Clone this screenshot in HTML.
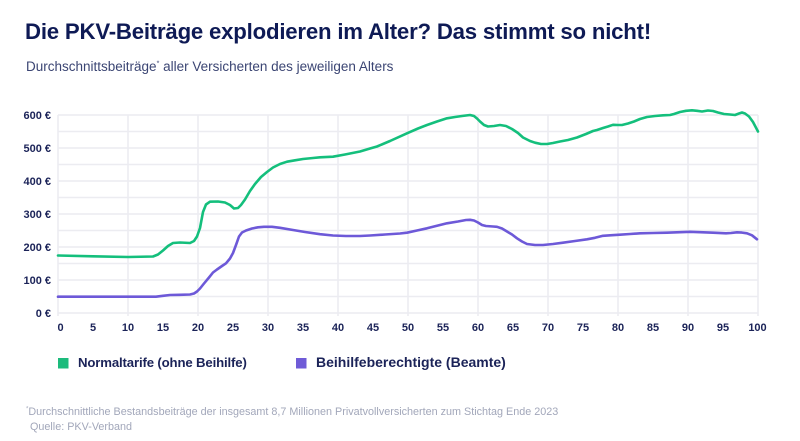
<!DOCTYPE html>
<html><head><meta charset="utf-8">
<style>
html,body{margin:0;padding:0;background:#fff;}
body{width:800px;height:441px;overflow:hidden;position:relative;font-family:"Liberation Sans","DejaVu Sans",sans-serif;}
.t{position:absolute;white-space:nowrap;}
</style></head><body>
<div class="t" style="left:25px;top:19px;font-size:22.2px;font-weight:bold;color:#0e1a55;letter-spacing:-0.2px;">Die PKV-Beiträge explodieren im Alter? Das stimmt so nicht!</div>
<div class="t" style="left:26px;top:59px;font-size:13.5px;color:#3b4573;">Durchschnittsbeiträge<sup style="font-size:7px;">*</sup> aller Versicherten des jeweiligen Alters</div>

<svg width="800" height="441" style="position:absolute;left:0;top:0;" xmlns="http://www.w3.org/2000/svg">
<g stroke="#ececf1" stroke-width="1.5">
<line x1="58" y1="115" x2="758" y2="115"/>
<line x1="58" y1="131.5" x2="758" y2="131.5"/>
<line x1="58" y1="148" x2="758" y2="148"/>
<line x1="58" y1="164.5" x2="758" y2="164.5"/>
<line x1="58" y1="181" x2="758" y2="181"/>
<line x1="58" y1="197.5" x2="758" y2="197.5"/>
<line x1="58" y1="214" x2="758" y2="214"/>
<line x1="58" y1="230.5" x2="758" y2="230.5"/>
<line x1="58" y1="247" x2="758" y2="247"/>
<line x1="58" y1="263.5" x2="758" y2="263.5"/>
<line x1="58" y1="280" x2="758" y2="280"/>
<line x1="58" y1="296.5" x2="758" y2="296.5"/>
<line x1="58" y1="313" x2="758" y2="313"/>
<line x1="58" y1="115" x2="58" y2="316"/>
<line x1="128" y1="115" x2="128" y2="316"/>
<line x1="198" y1="115" x2="198" y2="316"/>
<line x1="268" y1="115" x2="268" y2="316"/>
<line x1="338" y1="115" x2="338" y2="316"/>
<line x1="408" y1="115" x2="408" y2="316"/>
<line x1="478" y1="115" x2="478" y2="316"/>
<line x1="548" y1="115" x2="548" y2="316"/>
<line x1="618" y1="115" x2="618" y2="316"/>
<line x1="688" y1="115" x2="688" y2="316"/>
<line x1="758" y1="115" x2="758" y2="316"/>
</g>
<g font-family="Liberation Sans, sans-serif" font-size="11" fill="#1b2358" font-weight="bold" text-anchor="end">
<text x="51" y="119">600 €</text>
<text x="51" y="152">500 €</text>
<text x="51" y="185">400 €</text>
<text x="51" y="218">300 €</text>
<text x="51" y="251">200 €</text>
<text x="51" y="284">100 €</text>
<text x="51" y="317">0 €</text>
</g>
<g font-family="Liberation Sans, sans-serif" font-size="11" fill="#1b2358" font-weight="bold" text-anchor="middle">
<text x="60.5" y="331">0</text>
<text x="93" y="331">5</text>
<text x="128" y="331">10</text>
<text x="163" y="331">15</text>
<text x="198" y="331">20</text>
<text x="233" y="331">25</text>
<text x="268" y="331">30</text>
<text x="303" y="331">35</text>
<text x="338" y="331">40</text>
<text x="373" y="331">45</text>
<text x="408" y="331">50</text>
<text x="443" y="331">55</text>
<text x="478" y="331">60</text>
<text x="513" y="331">65</text>
<text x="548" y="331">70</text>
<text x="583" y="331">75</text>
<text x="618" y="331">80</text>
<text x="653" y="331">85</text>
<text x="688" y="331">90</text>
<text x="723" y="331">95</text>
<text x="757.5" y="331">100</text>
</g>
<polyline fill="none" stroke="#6d59d8" stroke-width="2.6" stroke-linejoin="round" stroke-linecap="round" points="58,296.7 156,296.7 163,295.8 170,295 180,294.8 190,294.5 194,293.5 197,291.5 200,288.5 204,283.5 209,277.5 213,272.5 217,269.5 222,266 226,263.3 230,258.5 233,253 236,245 239,236.5 242,232.5 246,230.5 252,228.5 258,227.3 264,226.8 272,226.8 280,227.8 293,230 305,232 320,234.2 333,235.5 346,236 360,236 370,235.5 385,234.5 400,233.5 407,232.7 417,230.5 427,228.3 437,225.8 447,223.3 458,221.5 466,220 470,219.8 474,220.5 478,222.5 482,225 486,226 493,226.5 497,226.8 502,228.5 507,231.5 512,234.5 517,238.3 522,241.5 527,244 535,245 543,245 553,244 563,242.7 575,241 587,239.3 595,237.8 603,235.8 612,235.2 620,234.7 630,234 640,233.3 653,233 667,232.7 680,232.2 690,231.8 700,232.2 713,232.7 726,233.3 731,233 737,232.3 742,232.6 747,233.3 752,235.3 757,239.3"/>
<polyline fill="none" stroke="#14bf7c" stroke-width="2.6" stroke-linejoin="round" stroke-linecap="round" points="58,255.5 93,256.3 128,257 153,256.5 158,254.5 163,250.5 168,246 173,243 180,242.5 190,243 194,241 197,236.5 200,228 203,212 206,204.5 210,201.7 218,201.5 225,202.5 230,205 234,208.5 238,208 241,205 245,199.5 250,191 255,184 261,177 267,172 273,167.5 280,164 287,161.7 295,160.3 303,159 313,158 320,157.3 333,156.7 345,154.5 360,151.5 370,148.5 377,146.5 390,141 407,133.3 418,128.5 427,125 437,121.5 447,118.3 455,117 462,116 470,115 474,116 477,118.5 480,121.5 484,125 488,126.5 494,126 500,125 506,126 512,129 518,133 523,137.5 530,141 535,142.7 541,144 547,144 553,143 560,141.5 568,140 577,137.5 586,134 593,131 597,130 603,128 608,126.5 613,124.8 618,125 622,125 628,123.5 634,121.5 640,119 647,117 655,116 663,115.3 670,115 674,114 680,112 686,110.8 692,110.3 697,110.8 702,111.5 708,110.5 713,111 718,112.5 724,114 730,114.5 735,115 739,113.5 742,112.5 745,113.5 749,116.5 753,122 758,131.5"/>
<rect x="58" y="358" width="10.5" height="10.5" fill="#1cbb7c"/>
<rect x="296" y="358" width="10.5" height="10.5" fill="#6f5bd7"/>
</svg>

<div class="t" style="left:78px;top:354.5px;font-size:13.2px;font-weight:bold;color:#1b2358;letter-spacing:-0.15px;">Normaltarife (ohne Beihilfe)</div>
<div class="t" style="left:316px;top:354px;font-size:14px;font-weight:bold;color:#1b2358;">Beihilfeberechtigte (Beamte)</div>
<div class="t" style="left:26px;top:406px;font-size:10.8px;color:#a2a7ba;"><sup style="font-size:6px;">*</sup>Durchschnittliche Bestandsbeiträge der insgesamt 8,7 Millionen Privatvollversicherten zum Stichtag Ende 2023</div>
<div class="t" style="left:30px;top:421px;font-size:10.8px;color:#a2a7ba;">Quelle: PKV-Verband</div>
</body></html>
